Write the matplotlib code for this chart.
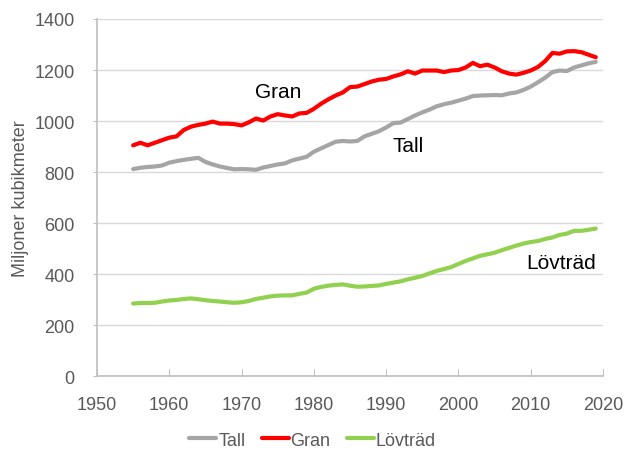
import numpy as np
import matplotlib
matplotlib.use("Agg")
import matplotlib.pyplot as plt

plt.rcParams['font.family'] = ['Liberation Sans', 'DejaVu Sans']

# Données (millions de m3)
years = list(range(1955, 2020))

tall = [812, 817, 820, 822, 826, 837, 843, 848, 852, 856,
        840, 830, 822, 816, 811, 812, 811, 809, 818, 824,
        830, 834, 846, 853, 860, 880, 893, 906, 919, 922,
        920, 922, 940, 950, 960, 975, 992, 994, 1008, 1022,
        1034, 1045, 1058, 1066, 1072, 1080, 1088, 1098, 1100, 1101,
        1102, 1101, 1108, 1112, 1122, 1135, 1152, 1170, 1192, 1198,
        1196, 1210, 1218, 1226, 1232]

gran = [905, 915, 905, 915, 925, 935, 940, 965, 978, 985,
        990, 998, 990, 990, 988, 983, 995, 1010, 1002, 1018,
        1027, 1022, 1018, 1030, 1032, 1048, 1068, 1085, 1100, 1112,
        1133, 1135, 1145, 1155, 1162, 1165, 1175, 1183, 1195, 1186,
        1198, 1198, 1198, 1192, 1198, 1200, 1210, 1228, 1215, 1221,
        1210, 1195, 1186, 1182, 1189, 1198, 1212, 1235, 1267, 1264,
        1273, 1274, 1270, 1260, 1250]

lovtrad = [285, 287, 287, 288, 293, 297, 299, 303, 305, 302,
           298, 295, 293, 290, 288, 290, 295, 303, 308, 313,
           316, 317, 317, 323, 328, 343, 350, 355, 358, 360,
           355, 351, 352, 354, 356, 362, 367, 372, 380, 386,
           393, 403, 413, 420, 428, 440, 452, 462, 472, 478,
           484, 494, 503, 512, 520, 526, 530, 538, 544, 554,
           559, 570, 570, 574, 579]

series_names = ["Tall", "Gran", "Lövträd"]
colors = ["#a5a5a5", "#ff0000", "#92d050"]

fig = plt.figure(figsize=(6.25, 4.52), dpi=100)
ax = fig.add_axes([0.1552, 0.1653, 0.8096, 0.7905])

for name, vals, c in zip(series_names, [tall, gran, lovtrad], colors):
    ax.plot(years, vals, color=c, lw=3, label=name, solid_capstyle="round")

ax.set_xlim(1950, 2020)
ax.set_ylim(0, 1400)
ax.set_xticks(range(1950, 2021, 10))
ax.set_yticks(range(0, 1401, 200))
ax.yaxis.grid(True, color="#d9d9d9", lw=1)
ax.set_axisbelow(True)

for s in ["top", "right"]:
    ax.spines[s].set_visible(False)
for s in ["left", "bottom"]:
    ax.spines[s].set_color("#bfbfbf")
    ax.spines[s].set_linewidth(1.2)

ax.tick_params(axis="x", direction="in", length=5, color="#bfbfbf", labelsize=13,
               labelcolor="#595959", pad=14)
ax.tick_params(axis="y", direction="out", length=3, color="#bfbfbf", labelsize=13,
               labelcolor="#595959", pad=13)
ax.set_ylabel("Miljoner kubikmeter", fontsize=13, color="#595959", labelpad=4)

# Étiquettes des séries
ax.text(1975, 1114, "Gran", fontsize=15, ha="center", va="center")
ax.text(1993.1, 903, "Tall", fontsize=15, ha="center", va="center")
ax.text(2014.2, 447, "Lövträd", fontsize=15, ha="center", va="center")

leg = fig.legend(loc="center", bbox_to_anchor=(0.5, 0.024), ncol=3, frameon=False,
                 fontsize=13, handlelength=1.5, handletextpad=0.1, columnspacing=0.9)
for t in leg.get_texts():
    t.set_color("#595959")

fig.savefig("out.png", dpi=100)
